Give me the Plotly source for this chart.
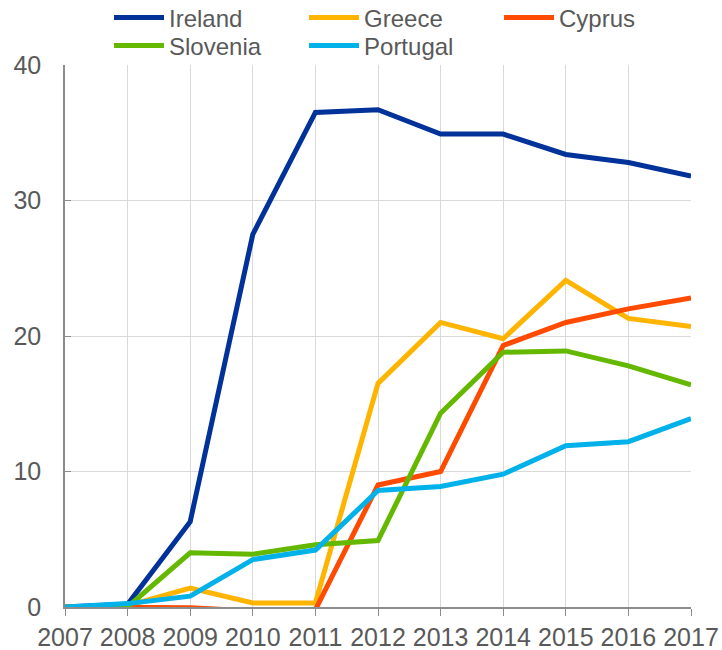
import plotly.graph_objects as go

years = [2007, 2008, 2009, 2010, 2011, 2012, 2013, 2014, 2015, 2016, 2017]
ireland = [0.0, 0.2, 6.3, 27.5, 36.5, 36.7, 34.9, 34.9, 33.4, 32.8, 31.8]
greece = [0.0, 0.1, 1.4, 0.3, 0.3, 16.5, 21.0, 19.8, 24.1, 21.3, 20.7]
cyprus = [0.0, 0.0, -0.05, -0.3, -0.2, 9.0, 10.0, 19.3, 21.0, 22.0, 22.8]
slovenia = [0.0, 0.0, 4.0, 3.9, 4.6, 4.9, 14.3, 18.8, 18.9, 17.8, 16.4]
portugal = [0.0, 0.25, 0.8, 3.5, 4.2, 8.6, 8.9, 9.8, 11.9, 12.2, 13.9]

series = [
    ("Ireland", ireland, "#003299", "legend"),
    ("Greece", greece, "#FFB400", "legend"),
    ("Cyprus", cyprus, "#FF4B00", "legend"),
    ("Slovenia", slovenia, "#65B800", "legend2"),
    ("Portugal", portugal, "#00B1EA", "legend2"),
]

fig = go.Figure()
for name, vals, color, leg in series:
    fig.add_trace(go.Scatter(x=years, y=vals, name=name, mode="lines", legend=leg,
                             line=dict(color=color, width=5)))

font_color = "#595959"
axis_color = "#8C8C8C"
ffam = "Liberation Sans, Arial, sans-serif"
leg_common = dict(orientation="h", xref="container", yref="container",
                  x=0.151, xanchor="left", yanchor="middle",
                  entrywidth=130, entrywidthmode="pixels", tracegroupgap=0,
                  font=dict(family=ffam, size=24, color=font_color),
                  bgcolor="rgba(0,0,0,0)", itemwidth=50)
fig.update_layout(
    width=722, height=650,
    margin=dict(l=65, r=31, t=65, b=43, autoexpand=False),
    paper_bgcolor="white", plot_bgcolor="white",
    font=dict(family=ffam, size=24, color=font_color),
    showlegend=True,
    legend=dict(leg_common, y=1 - 18 / 650),
    legend2=dict(leg_common, y=1 - 46 / 650),
    xaxis=dict(range=[2007, 2017], tickmode="array", tickvals=years,
               ticktext=[str(y) for y in years],
               showgrid=True, gridcolor="#D9D9D9", gridwidth=1,
               showline=True, linecolor=axis_color, linewidth=1.5,
               ticks="outside", ticklen=7, tickcolor=axis_color,
               tickfont=dict(family=ffam, size=25, color=font_color), zeroline=False),
    yaxis=dict(range=[0, 40], tickvals=[0, 10, 20, 30, 40],
               showgrid=True, gridcolor="#D9D9D9", gridwidth=1,
               showline=True, linecolor=axis_color, linewidth=1.5,
               ticks="inside", ticklen=6, tickcolor=axis_color,
               ticklabelstandoff=17,
               tickfont=dict(family=ffam, size=25, color=font_color), zeroline=False),
)

fig.write_html("out.html", config={"displayModeBar": False},
               post_script="document.body.style.margin='0';")
